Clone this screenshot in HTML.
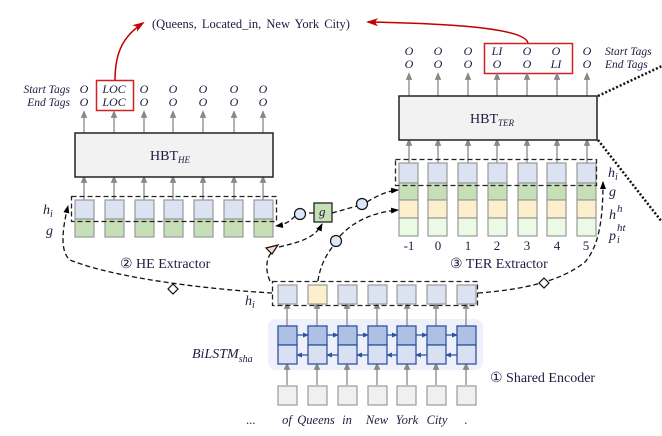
<!DOCTYPE html>
<html><head><meta charset="utf-8"><style>
html,body{margin:0;padding:0;background:#fff;}
svg{display:block;}
text{font-family:"Liberation Serif",serif;fill:#1c1c40;}
</style></head><body>
<svg width="662" height="436" viewBox="0 0 662 436" xmlns="http://www.w3.org/2000/svg">
<defs>
<marker id="ga" markerWidth="6" markerHeight="6" refX="3" refY="3" orient="auto"><path d="M0,0.5 L6,3 L0,5.5z" fill="#888"/></marker>
<marker id="ka" markerWidth="8" markerHeight="8" refX="7" refY="4" orient="auto" markerUnits="userSpaceOnUse"><path d="M0,1 L8,4 L0,7z" fill="#000"/></marker>
<marker id="ra" markerWidth="12" markerHeight="10" refX="10" refY="5" orient="auto" markerUnits="userSpaceOnUse"><path d="M0,1 L12,5 L0,9 L3,5z" fill="#c00000"/></marker>
<marker id="ba" markerWidth="6" markerHeight="6" refX="5" refY="3" orient="auto" markerUnits="userSpaceOnUse"><path d="M0,0.5 L6,3 L0,5.5z" fill="#2f55a0"/></marker>
</defs>

<text x="152" y="28" font-size="12.5" word-spacing="2">(Queens,  Located_in, New York City)</text>
<path d="M115,80 C115,50 125,35 143,23" stroke="#c00000" stroke-width="1.5" fill="none" marker-end="url(#ra)"/>
<path d="M528,43 C525,30 470,24 368,22" stroke="#c00000" stroke-width="1.5" fill="none" marker-end="url(#ra)"/>

<text x="70" y="93" text-anchor="end" font-size="11.5" font-style="italic">Start Tags</text>
<text x="70" y="106" text-anchor="end" font-size="11.5" font-style="italic">End Tags</text>
<g font-size="12" font-style="italic" text-anchor="middle">
<text x="84" y="93">O</text><text x="84" y="106">O</text>
<text x="114" y="93">LOC</text><text x="114" y="106">LOC</text>
<text x="144" y="93">O</text><text x="144" y="106">O</text>
<text x="173" y="93">O</text><text x="173" y="106">O</text>
<text x="203" y="93">O</text><text x="203" y="106">O</text>
<text x="234" y="93">O</text><text x="234" y="106">O</text>
<text x="263" y="93">O</text><text x="263" y="106">O</text>
</g>
<rect x="96.5" y="80.5" width="37" height="30" fill="none" stroke="#d02020" stroke-width="1.5"/>

<g stroke="#888" stroke-width="1.3" marker-end="url(#ga)">
<line x1="84" y1="133" x2="84" y2="114"/><line x1="114" y1="133" x2="114" y2="114"/><line x1="144" y1="133" x2="144" y2="114"/><line x1="173" y1="133" x2="173" y2="114"/><line x1="203" y1="133" x2="203" y2="114"/><line x1="234" y1="133" x2="234" y2="114"/><line x1="263" y1="133" x2="263" y2="114"/>
<line x1="84" y1="200" x2="84" y2="179"/><line x1="114" y1="200" x2="114" y2="179"/><line x1="144" y1="200" x2="144" y2="179"/><line x1="173" y1="200" x2="173" y2="179"/><line x1="203" y1="200" x2="203" y2="179"/><line x1="234" y1="200" x2="234" y2="179"/><line x1="263" y1="200" x2="263" y2="179"/>
</g>
<rect x="75" y="133" width="198" height="44" fill="#f2f2f2" stroke="#222" stroke-width="1.5"/>
<text x="150" y="160" font-size="14">HBT<tspan font-size="9" font-style="italic" dy="3">HE</tspan></text>

<g stroke="#999" stroke-width="1.2">
<g fill="#dbe2f2">
<rect x="75" y="200" width="19" height="19"/><rect x="105" y="200" width="19" height="19"/><rect x="135" y="200" width="19" height="19"/><rect x="164" y="200" width="19" height="19"/><rect x="194" y="200" width="19" height="19"/><rect x="224" y="200" width="19" height="19"/><rect x="254" y="200" width="19" height="19"/>
</g>
<g fill="#c6dfb6">
<rect x="75" y="219" width="19" height="18"/><rect x="105" y="219" width="19" height="18"/><rect x="135" y="219" width="19" height="18"/><rect x="164" y="219" width="19" height="18"/><rect x="194" y="219" width="19" height="18"/><rect x="224" y="219" width="19" height="18"/><rect x="254" y="219" width="19" height="18"/>
</g>
</g>
<rect x="71.5" y="196.5" width="205" height="25" fill="none" stroke="#222" stroke-width="1.3" stroke-dasharray="5,3"/>
<text x="43" y="214" font-size="14" font-style="italic">h<tspan font-size="10" dy="3">i</tspan></text>
<text x="46" y="235" font-size="14" font-style="italic">g</text>
<text x="120" y="268" font-size="14">② HE Extractor</text>

<g font-size="12" font-style="italic" text-anchor="middle">
<text x="409" y="55">O</text><text x="409" y="68">O</text>
<text x="438" y="55">O</text><text x="438" y="68">O</text>
<text x="468" y="55">O</text><text x="468" y="68">O</text>
<text x="497" y="55">LI</text><text x="497" y="68">O</text>
<text x="527" y="55">O</text><text x="527" y="68">O</text>
<text x="556" y="55">O</text><text x="556" y="68">LI</text>
<text x="587" y="55">O</text><text x="587" y="68">O</text>
</g>
<text x="605" y="55" font-size="11.5" font-style="italic">Start Tags</text>
<text x="605" y="68" font-size="11.5" font-style="italic">End Tags</text>
<rect x="484.5" y="43.5" width="88" height="30" fill="none" stroke="#d02020" stroke-width="1.5"/>

<g stroke="#888" stroke-width="1.3" marker-end="url(#ga)">
<line x1="409" y1="96" x2="409" y2="76"/><line x1="438" y1="96" x2="438" y2="76"/><line x1="468" y1="96" x2="468" y2="76"/><line x1="497" y1="96" x2="497" y2="76"/><line x1="527" y1="96" x2="527" y2="76"/><line x1="557" y1="96" x2="557" y2="76"/><line x1="587" y1="96" x2="587" y2="76"/>
<line x1="409" y1="163" x2="409" y2="142"/><line x1="438" y1="163" x2="438" y2="142"/><line x1="468" y1="163" x2="468" y2="142"/><line x1="497" y1="163" x2="497" y2="142"/><line x1="527" y1="163" x2="527" y2="142"/><line x1="557" y1="163" x2="557" y2="142"/><line x1="587" y1="163" x2="587" y2="142"/>
</g>
<rect x="399" y="96" width="198" height="44" fill="#f2f2f2" stroke="#222" stroke-width="1.5"/>
<text x="470" y="123" font-size="14">HBT<tspan font-size="9" font-style="italic" dy="3">TER</tspan></text>

<g stroke="#999" stroke-width="1.2">
<g fill="#dbe2f2">
<rect x="399" y="163" width="19" height="20"/><rect x="428" y="163" width="19" height="20"/><rect x="458" y="163" width="19" height="20"/><rect x="488" y="163" width="19" height="20"/><rect x="518" y="163" width="19" height="20"/><rect x="547" y="163" width="19" height="20"/><rect x="577" y="163" width="19" height="20"/>
</g>
<g fill="#c6dfb6">
<rect x="399" y="183" width="19" height="17"/><rect x="428" y="183" width="19" height="17"/><rect x="458" y="183" width="19" height="17"/><rect x="488" y="183" width="19" height="17"/><rect x="518" y="183" width="19" height="17"/><rect x="547" y="183" width="19" height="17"/><rect x="577" y="183" width="19" height="17"/>
</g>
<g fill="#fdefcc">
<rect x="399" y="200" width="19" height="18"/><rect x="428" y="200" width="19" height="18"/><rect x="458" y="200" width="19" height="18"/><rect x="488" y="200" width="19" height="18"/><rect x="518" y="200" width="19" height="18"/><rect x="547" y="200" width="19" height="18"/><rect x="577" y="200" width="19" height="18"/>
</g>
<g fill="#eafae4">
<rect x="399" y="218" width="19" height="18"/><rect x="428" y="218" width="19" height="18"/><rect x="458" y="218" width="19" height="18"/><rect x="488" y="218" width="19" height="18"/><rect x="518" y="218" width="19" height="18"/><rect x="547" y="218" width="19" height="18"/><rect x="577" y="218" width="19" height="18"/>
</g>
</g>
<rect x="395.5" y="159.5" width="201" height="26" fill="none" stroke="#222" stroke-width="1.3" stroke-dasharray="5,3"/>
<g font-size="13" text-anchor="middle">
<text x="409" y="250">-1</text><text x="438" y="250">0</text><text x="468" y="250">1</text><text x="497" y="250">2</text><text x="527" y="250">3</text><text x="557" y="250">4</text><text x="586" y="250">5</text>
</g>
<text x="608" y="177" font-size="14" font-style="italic">h<tspan font-size="10" dy="3">i</tspan></text>
<text x="609" y="196" font-size="14" font-style="italic">g</text>
<text x="609" y="219" font-size="14" font-style="italic">h</text>
<text x="617" y="212" font-size="11" font-style="italic">h</text>
<text x="609" y="240" font-size="14" font-style="italic">p</text>
<text x="617" y="243" font-size="10" font-style="italic">i</text>
<text x="617" y="231" font-size="11" font-style="italic">ht</text>
<text x="450" y="268" font-size="14">③ TER Extractor</text>

<line x1="598" y1="96" x2="662" y2="66" stroke="#111" stroke-width="2.5" stroke-dasharray="2,2"/>
<line x1="598" y1="140" x2="662" y2="222" stroke="#111" stroke-width="2.5" stroke-dasharray="2,2"/>

<rect x="268" y="319" width="215" height="51" rx="8" fill="#eef0fb"/>
<g stroke="#888" stroke-width="1.3" marker-end="url(#ga)">
<line x1="287" y1="326" x2="287" y2="305"/><line x1="317" y1="326" x2="317" y2="305"/><line x1="347" y1="326" x2="347" y2="305"/><line x1="377" y1="326" x2="377" y2="305"/><line x1="407" y1="326" x2="407" y2="305"/><line x1="436" y1="326" x2="436" y2="305"/><line x1="466" y1="326" x2="466" y2="305"/>
<line x1="287" y1="385" x2="287" y2="366"/><line x1="317" y1="385" x2="317" y2="366"/><line x1="347" y1="385" x2="347" y2="366"/><line x1="377" y1="385" x2="377" y2="366"/><line x1="407" y1="385" x2="407" y2="366"/><line x1="436" y1="385" x2="436" y2="366"/><line x1="466" y1="385" x2="466" y2="366"/>
</g>
<g stroke="#999" stroke-width="1.2">
<rect x="278" y="285" width="19" height="19" fill="#dbe2f2"/><rect x="308" y="285" width="19" height="19" fill="#fdefcc"/><rect x="338" y="285" width="19" height="19" fill="#dbe2f2"/><rect x="368" y="285" width="19" height="19" fill="#dbe2f2"/><rect x="397" y="285" width="19" height="19" fill="#dbe2f2"/><rect x="427" y="285" width="19" height="19" fill="#dbe2f2"/><rect x="457" y="285" width="19" height="19" fill="#dbe2f2"/>
<g fill="#f0f0f0">
<rect x="278" y="386" width="19" height="19"/><rect x="308" y="386" width="19" height="19"/><rect x="338" y="386" width="19" height="19"/><rect x="368" y="386" width="19" height="19"/><rect x="397" y="386" width="19" height="19"/><rect x="427" y="386" width="19" height="19"/><rect x="457" y="386" width="19" height="19"/>
</g>
</g>
<rect x="272.5" y="281.5" width="205" height="24" fill="none" stroke="#222" stroke-width="1.3" stroke-dasharray="5,3"/>
<g stroke="#2f55a0" stroke-width="1.3">
<g fill="#aec0e4">
<rect x="278" y="326" width="19" height="19"/><rect x="308" y="326" width="19" height="19"/><rect x="338" y="326" width="19" height="19"/><rect x="368" y="326" width="19" height="19"/><rect x="397" y="326" width="19" height="19"/><rect x="427" y="326" width="19" height="19"/><rect x="457" y="326" width="19" height="19"/>
</g>
<g fill="#d8e0f2">
<rect x="278" y="345" width="19" height="19"/><rect x="308" y="345" width="19" height="19"/><rect x="338" y="345" width="19" height="19"/><rect x="368" y="345" width="19" height="19"/><rect x="397" y="345" width="19" height="19"/><rect x="427" y="345" width="19" height="19"/><rect x="457" y="345" width="19" height="19"/>
</g>
<g marker-end="url(#ba)">
<line x1="297" y1="335" x2="308" y2="335"/><line x1="327" y1="335" x2="338" y2="335"/><line x1="357" y1="335" x2="368" y2="335"/><line x1="387" y1="335" x2="397" y2="335"/><line x1="416" y1="335" x2="427" y2="335"/><line x1="446" y1="335" x2="457" y2="335"/>
<line x1="308" y1="355" x2="297" y2="355"/><line x1="338" y1="355" x2="327" y2="355"/><line x1="368" y1="355" x2="357" y2="355"/><line x1="397" y1="355" x2="387" y2="355"/><line x1="427" y1="355" x2="416" y2="355"/><line x1="457" y1="355" x2="446" y2="355"/>
</g>
</g>
<text x="192" y="358" font-size="14" font-style="italic">BiLSTM<tspan font-size="10" dy="4">sha</tspan></text>
<text x="490" y="382" font-size="14">① Shared Encoder</text>
<text x="245" y="305" font-size="14" font-style="italic">h<tspan font-size="10" dy="3">i</tspan></text>
<g font-size="12.5" font-style="italic" text-anchor="middle">
<text x="251" y="424">...</text><text x="287" y="424">of</text><text x="316" y="424">Queens</text><text x="347" y="424">in</text><text x="377" y="424">New</text><text x="407" y="424">York</text><text x="437" y="424">City</text><text x="466" y="424">.</text>
</g>

<g fill="none" stroke="#111" stroke-width="1.3" stroke-dasharray="5,3">
<path d="M272,293 C220,290 120,280 70,260 C60,252 62,230 68,206" marker-end="url(#ka)"/>
<path d="M478,293 C520,290 560,282 585,262 C600,245 603,215 603,182" marker-end="url(#ka)"/>
<path d="M295,216 C290,222 283,225 276,226" marker-end="url(#ka)"/>
<path d="M332,213 L357,206 M367,202 C378,195 388,191 398,190" marker-end="url(#ka)"/>
<path d="M314,213 L305,213"/>
<path d="M270,281 C265,270 266,258 272,252 M279,247 C300,242 315,238 322,224" marker-end="url(#ka)"/>
<path d="M318,281 C320,265 328,252 334,245 M340,236 C355,220 375,212 398,210" marker-end="url(#ka)"/>
</g>
<rect x="314" y="203" width="18" height="19" fill="#c6dfb6" stroke="#222" stroke-width="1.3"/>
<text x="319" y="216" font-size="13" font-style="italic">g</text>
<g fill="#dbe8f8" stroke="#111" stroke-width="1.2">
<circle cx="300" cy="214" r="5.5"/><circle cx="362" cy="204" r="5.5"/><circle cx="336" cy="241" r="5.5"/>
</g>
<path d="M266,248 L278,245 L272,254z" fill="#fbd9c6" stroke="#111" stroke-width="1.2"/>
<path d="M173,284 L178,289 L173,294 L168,289z" fill="#fff" stroke="#111" stroke-width="1.2"/>
<path d="M544,278 L549,283 L544,288 L539,283z" fill="#fff" stroke="#111" stroke-width="1.2"/>
</svg>
</body></html>
